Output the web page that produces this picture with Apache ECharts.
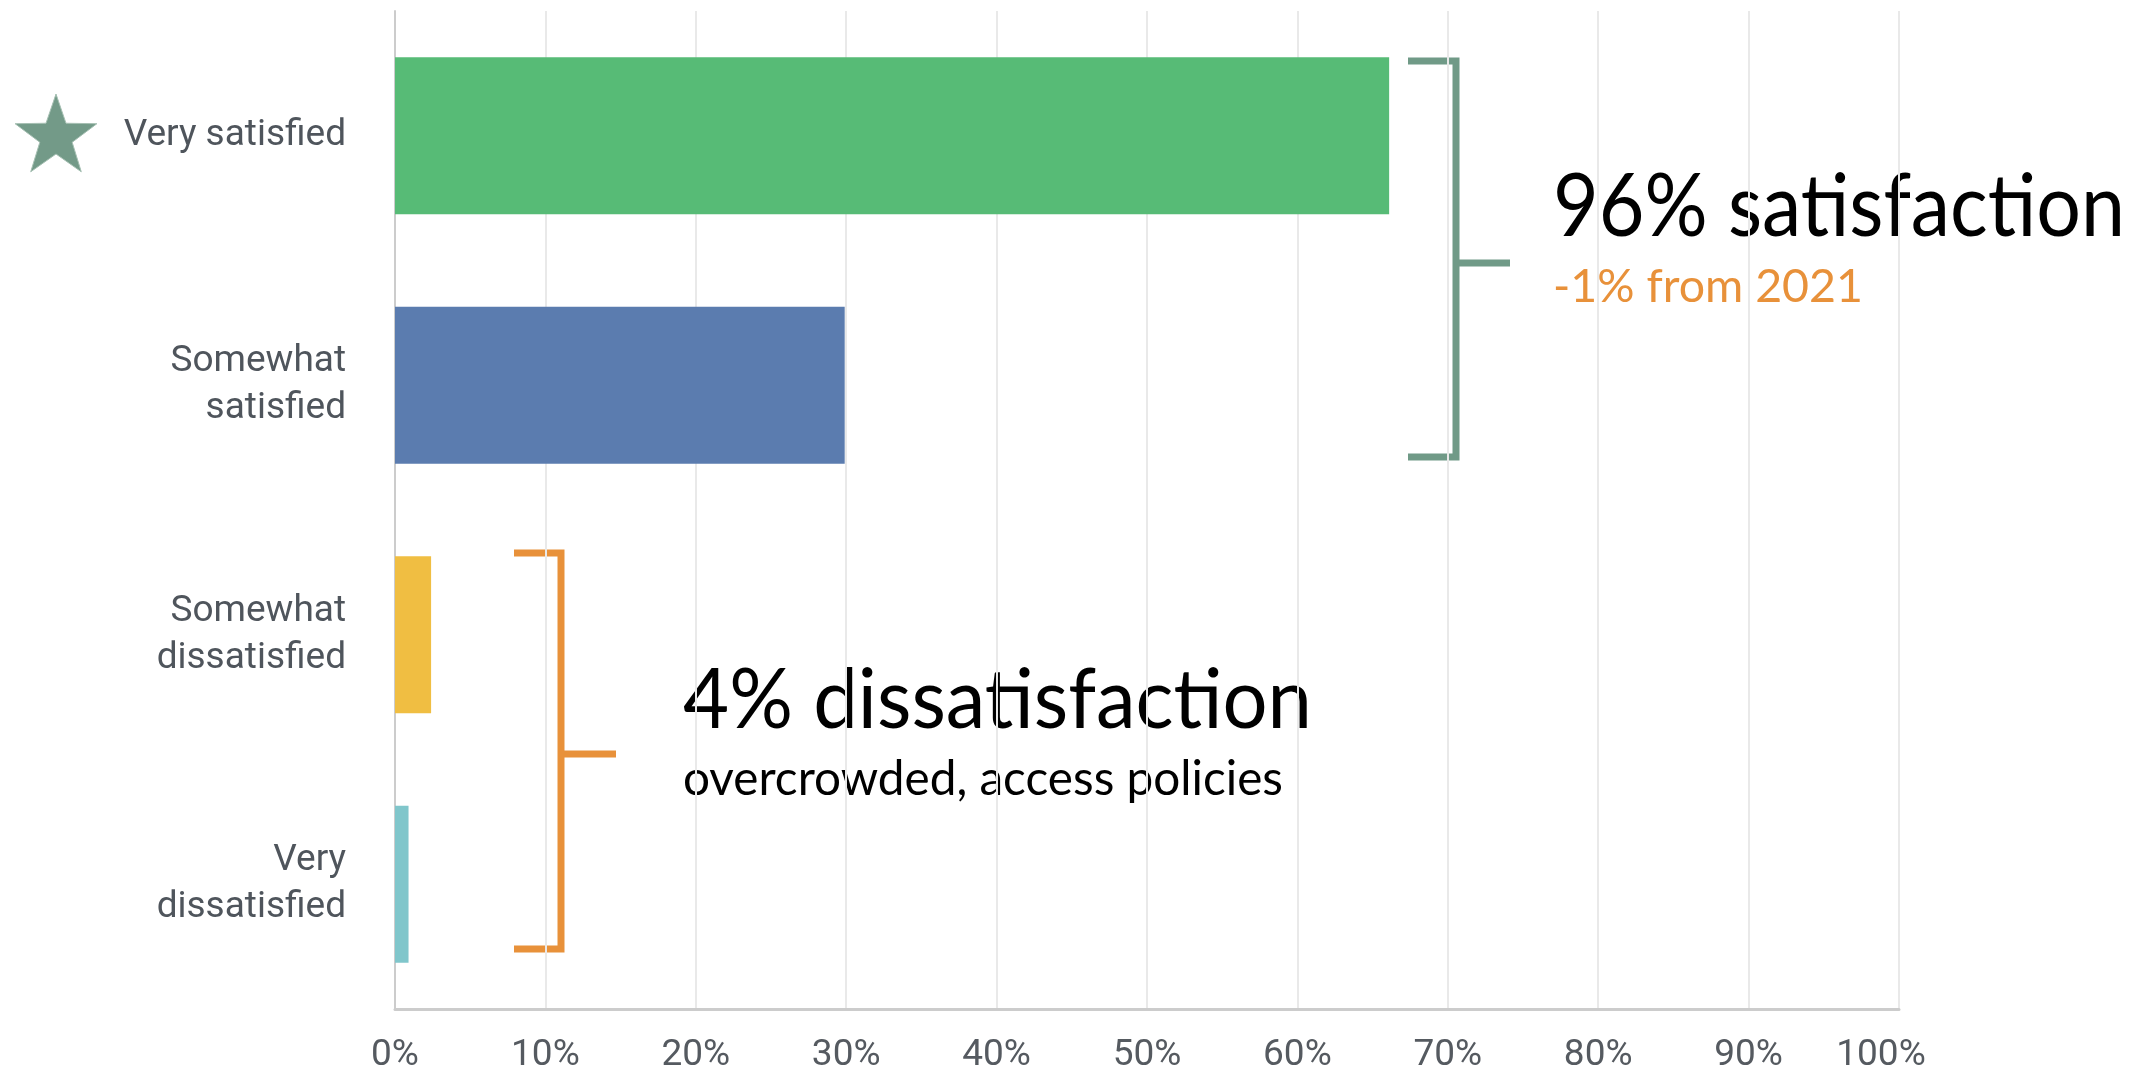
<!DOCTYPE html>
<html><head><meta charset="utf-8">
<script src="https://cdn.jsdelivr.net/npm/echarts@6/dist/echarts.min.js"></script>
<style>html,body{margin:0;padding:0;background:#fff}#c{width:2150px;height:1074px}</style>
</head><body><div id="c"></div>
<script>
var categories = ['Very satisfied', 'Somewhat\nsatisfied', 'Somewhat\ndissatisfied', 'Very\ndissatisfied'];
var values = [66.1, 29.9, 2.4, 0.9];
var barColors = ['#57bb76', '#5b7caf', '#f0be42', '#80c6cb'];
var tickValues = [0,10,20,30,40,50,60,70,80,90,100];

var chart = echarts.init(document.getElementById('c'), null, {renderer:'canvas'});
var axisFont = 'Roboto, sans-serif';

function starPoints(cx, cy, R, r) {
  var pts = [];
  for (var i = 0; i < 10; i++) {
    var rad = (i % 2 === 0) ? R : r;
    var a = -Math.PI / 2 + i * Math.PI / 5;
    pts.push([cx + rad * Math.cos(a), cy + rad * Math.sin(a)]);
  }
  return pts;
}

var measureCtx = document.createElement('canvas').getContext('2d');
function fitScale(text, font, targetW) {
  measureCtx.font = font;
  var w = measureCtx.measureText(text).width;
  return w > 0 ? targetW / w : 1;
}

var green = '#709a87', orange = '#e8913a';
function bracket(xv, xl, y1, y2, ym, xt, color) {
  return [
    {type:'polyline', shape:{points:[[xl,y1],[xv,y1],[xv,y2],[xl,y2]]}, style:{stroke:color, lineWidth:7, fill:null, lineJoin:'miter'}},
    {type:'line', shape:{x1:xv, y1:ym, x2:xt, y2:ym}, style:{stroke:color, lineWidth:7}}
  ];
}
function label(txt, x, y, size, w, color) {
  var font = size + 'px Lato';
  var s = fitScale(txt, font, w);
  return {type:'text', x:x, y:y, scaleX:s, style:{text:txt, font:font, fill:color, verticalAlign:'middle'}};
}

var option = {
  animation: false,
  grid: {left: 395, right: 251, top: 11, bottom: 65, containLabel: false},
  xAxis: {
    type: 'value', min: 0, max: 100, interval: 10,
    axisLine: {show: true, lineStyle: {color: '#cccccc', width: 3}},
    axisTick: {show: false},
    splitLine: {show: true, lineStyle: {color: '#e9e9e9', width: 2}},
    axisLabel: {
      formatter: function (v) { return v === tickValues[tickValues.length - 1] ? '{last|' + v + '%}' : v + '%'; },
      rich: {last: {padding: [0, 36, 0, 0], color: '#555a60', fontSize: 37, fontFamily: axisFont}},
      color: '#555a60', fontSize: 37, fontFamily: axisFont, margin: 28
    }
  },
  yAxis: {
    type: 'category', inverse: true, data: categories,
    axisLine: {show: true, lineStyle: {color: '#cccccc', width: 2}},
    axisTick: {show: false},
    axisLabel: {color: '#4f555c', fontSize: 37, fontFamily: axisFont, margin: 49, lineHeight: 47, align: 'right'}
  },
  series: [{
    type: 'bar', barWidth: '63%',
    data: values.map(function(v, i){ return {value: v, itemStyle: {color: barColors[i]}}; })
  }],
  graphic: [].concat(
    [{type:'polygon', shape:{points: starPoints(56, 137, 43, 17)}, style:{fill:'#739a88', stroke:'#a5bfb2', lineWidth:1}}],
    bracket(1456, 1408, 61, 457, 263, 1510, green),
    bracket(561, 514, 553, 949, 754, 616, orange),
    [
      label('96% satisfaction', 1553, 208, 88, 572, '#000'),
      label('-1% from 2021', 1553, 287, 46, 310, orange),
      label('4% dissatisfaction', 683, 701, 84, 629, '#000'),
      label('overcrowded, access policies', 683, 780, 48, 600, '#000')
    ]
  )
};
chart.setOption(option);
</script>
</body></html>
